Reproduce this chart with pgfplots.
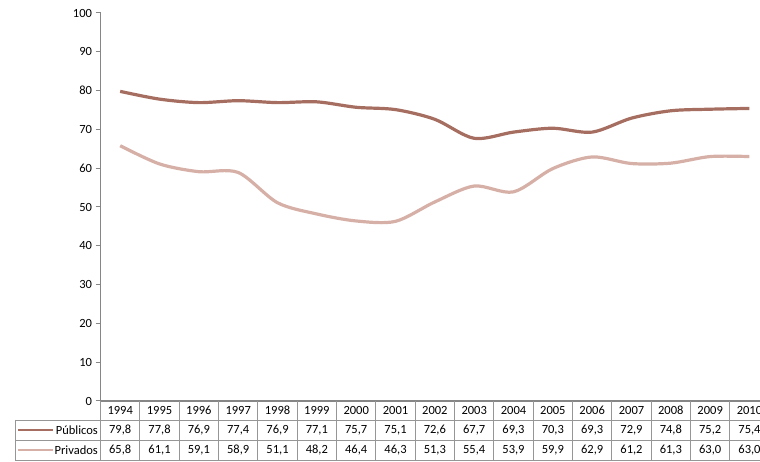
\documentclass[border=0pt]{standalone}
\usepackage{fontspec}
\setmainfont{Carlito}
\usepackage{pgfplots}
\pgfplotsset{compat=1.18}
\definecolor{pub}{RGB}{166,110,96}
\definecolor{pri}{RGB}{214,176,167}
\definecolor{axgray}{RGB}{134,134,134}
\definecolor{tabgray}{RGB}{150,150,150}
\begin{document}
\begin{tikzpicture}[x=1pt,y=1pt]
\useasboundingbox (0,0) rectangle (760,462);
\begin{axis}[at={(100.5pt,61pt)}, anchor=south west, width=668.6pt, height=388pt, scale only axis,
  xmin=-0.5, xmax=16.5, ymin=0, ymax=100, ytick={0,10,...,100}, xtick=\empty,
  axis x line*=bottom, axis y line*=left,
  axis line style={axgray, line width=1.5pt, -},
  y tick style={axgray, line width=1pt}, tick align=outside, major tick length=5pt,
  yticklabel style={font=\fontsize{12.5}{14}\selectfont, text=black},
  /pgf/number format/assume math mode=true, clip=false]
\addplot[pub, line width=3.2pt, smooth, tension=0.5] coordinates {
(0,79.8) (1,77.8) (2,76.9) (3,77.4) (4,76.9) (5,77.1) (6,75.7) (7,75.1) (8,72.6)
(9,67.7) (10,69.3) (11,70.3) (12,69.3) (13,72.9) (14,74.8) (15,75.2) (16,75.4)};
\addplot[pri, line width=3.2pt, smooth, tension=0.5] coordinates {
(0,65.8) (1,61.1) (2,59.1) (3,58.9) (4,51.1) (5,48.2) (6,46.4) (7,46.3) (8,51.3)
(9,55.4) (10,53.9) (11,59.9) (12,62.9) (13,61.2) (14,61.3) (15,63.0) (16,63.0)};
\end{axis}
% data table
\begin{scope}[tabgray, line width=0.8pt]
\draw (15,42) -- (770,42);
\draw (15,22) -- (770,22);
\draw (15,2) -- (770,2);
\draw (15,42) -- (15,2);
\foreach \k in {1,...,17} { \draw (100.5+39.33*\k,61) -- (100.5+39.33*\k,2); }
\draw (100.5,61) -- (100.5,2);
\end{scope}
\begin{scope}[font=\fontsize{12.5}{14}\selectfont, text=black]
\foreach \yr [count=\i from 0] in {1994,1995,1996,1997,1998,1999,2000,2001,2002,2003,2004,2005,2006,2007,2008,2009,2010}
  { \node at (120.2+39.33*\i,51.5) {\yr}; }
\foreach \v [count=\i from 0] in {{79,8},{77,8},{76,9},{77,4},{76,9},{77,1},{75,7},{75,1},{72,6},{67,7},{69,3},{70,3},{69,3},{72,9},{74,8},{75,2},{75,4}}
  { \node at (120.2+39.33*\i,31.5) {\v}; }
\foreach \v [count=\i from 0] in {{65,8},{61,1},{59,1},{58,9},{51,1},{48,2},{46,4},{46,3},{51,3},{55,4},{53,9},{59,9},{62,9},{61,2},{61,3},{63,0},{63,0}}
  { \node at (120.2+39.33*\i,11.5) {\v}; }
\node[anchor=east, inner sep=0pt] at (98,31.5) {Públicos};
\node[anchor=east, inner sep=0pt] at (98,11.5) {Privados};
\end{scope}
\draw[pub, line width=2.5pt] (18,32) -- (53,32);
\draw[pri, line width=2.5pt] (18,12) -- (53,12);
\end{tikzpicture}
\end{document}
